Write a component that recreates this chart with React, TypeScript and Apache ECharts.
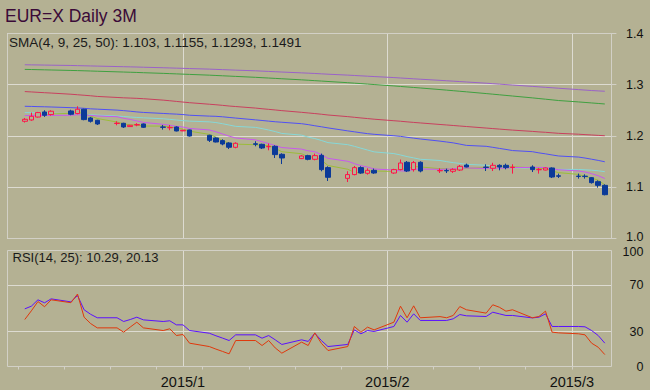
import React, { useEffect, useRef } from 'react';
import * as echarts from 'echarts';

// ---------- data ----------
const tradeDates = [
  '2014-12-08','2014-12-09','2014-12-10','2014-12-11','2014-12-12','2014-12-15','2014-12-16','2014-12-17','2014-12-18','2014-12-19',
  '2014-12-22','2014-12-23','2014-12-24','2014-12-25','2014-12-26','2014-12-29','2014-12-30','2014-12-31',
  '2015-01-01','2015-01-02','2015-01-05','2015-01-06','2015-01-07','2015-01-08','2015-01-09','2015-01-12','2015-01-13','2015-01-14',
  '2015-01-15','2015-01-16','2015-01-19','2015-01-20','2015-01-21','2015-01-22','2015-01-23','2015-01-26','2015-01-27','2015-01-28',
  '2015-01-29','2015-01-30',
  '2015-02-02','2015-02-03','2015-02-04','2015-02-05','2015-02-06','2015-02-09','2015-02-10','2015-02-11','2015-02-12','2015-02-13',
  '2015-02-16','2015-02-17','2015-02-18','2015-02-19','2015-02-20','2015-02-23','2015-02-24','2015-02-25','2015-02-26','2015-02-27',
  '2015-03-02','2015-03-03','2015-03-04','2015-03-05','2015-03-06'
];

const opens = [
  1.2287,1.2313,1.2370,1.2469,1.2418,1.2489,1.2438,1.2522,1.2352,1.2307,
  1.2244,1.2248,1.2184,1.2216,1.2235,1.2176,1.2160,1.2176,
  1.2100,1.2118,1.2014,1.1961,1.1910,1.1864,1.1779,1.1848,1.1838,1.1790,
  1.1799,1.1643,1.1559,1.1617,1.1545,1.1623,1.1383,1.1174,1.1247,1.1383,
  1.1272,1.1330,
  1.1278,1.1344,1.1487,1.1344,1.1487,1.1320,1.1328,1.1311,1.1336,1.1434,
  1.1393,1.1370,1.1428,1.1428,1.1385,1.1395,1.1341,1.1336,1.1376,1.1223,
  1.1217,1.1217,1.1187,1.1109,1.1037
];
const closes = [
  1.2326,1.2385,1.2457,1.2404,1.2483,1.2424,1.2522,1.2320,1.2287,1.2235,
  1.2250,1.2176,1.2209,1.2222,1.2170,1.2170,1.2166,1.2098,
  1.2112,1.2000,1.1916,1.1883,1.1844,1.1780,1.1858,1.1838,1.1766,1.1796,
  1.1637,1.1571,1.1610,1.1545,1.1617,1.1344,1.1194,1.1247,1.1383,1.1278,
  1.1330,1.1278,
  1.1344,1.1473,1.1317,1.1481,1.1317,1.1328,1.1320,1.1350,1.1409,1.1395,
  1.1387,1.1428,1.1395,1.1383,1.1391,1.1344,1.1347,1.1376,1.1200,1.1215,
  1.1211,1.1209,1.1090,1.1037,1.0855
];
const lows = [
  1.2262,1.2297,1.2360,1.2372,1.2398,1.2405,1.2424,1.2307,1.2262,1.2215,
  1.2209,1.2157,1.2180,1.2190,1.2160,1.2125,1.2112,1.2090,
  1.2095,1.1990,1.1883,1.1875,1.1819,1.1746,1.1760,1.1799,1.1746,1.1721,
  1.1571,1.1453,1.1550,1.1526,1.1526,1.1311,1.1122,1.1102,1.1233,1.1262,
  1.1246,1.1262,
  1.1262,1.1330,1.1297,1.1305,1.1291,1.1278,1.1278,1.1278,1.1317,1.1389,
  1.1317,1.1317,1.1330,1.1350,1.1266,1.1297,1.1266,1.1330,1.1180,1.1180,
  1.1168,1.1168,1.1071,1.0992,1.0842
];
const highs = [
  1.2352,1.2457,1.2470,1.2502,1.2502,1.2512,1.2580,1.2531,1.2372,1.2316,
  1.2287,1.2258,1.2215,1.2250,1.2245,1.2215,1.2215,1.2190,
  1.2120,1.2125,1.2024,1.1975,1.1936,1.1880,1.1877,1.1897,1.1850,1.1852,
  1.1818,1.1663,1.1625,1.1633,1.1657,1.1657,1.1409,1.1311,1.1415,1.1409,
  1.1370,1.1364,
  1.1360,1.1540,1.1512,1.1512,1.1506,1.1370,1.1364,1.1370,1.1434,1.1461,
  1.1448,1.1477,1.1448,1.1461,1.1448,1.1428,1.1376,1.1385,1.1389,1.1266,
  1.1266,1.1252,1.1200,1.1135,1.1057
];

const sma4 = [
  null,null,null,1.2393,1.2432,1.2442,1.2458,1.2437,1.2388,1.2341,
  1.2273,1.2237,1.2218,1.2214,1.2194,1.2193,1.2182,1.2151,
  1.2137,1.2094,1.2032,1.1978,1.1911,1.1856,1.1841,1.1830,1.1811,1.1815,
  1.1759,1.1693,1.1654,1.1591,1.1586,1.1529,1.1425,1.1351,1.1292,1.1276,
  1.1310,1.1317,
  1.1308,1.1356,1.1353,1.1404,1.1397,1.1361,1.1362,1.1329,1.1352,1.1369,
  1.1385,1.1405,1.1401,1.1398,1.1399,1.1378,1.1366,1.1365,1.1317,1.1285,
  1.1251,1.1209,1.1181,1.1137,1.1048
];
const sma9 = [
  1.2399,1.2400,1.2400,1.2401,1.2402,1.2405,1.2415,1.2410,1.2401,1.2391,
  1.2376,1.2345,1.2323,1.2294,1.2266,1.2227,1.2209,1.2188,
  1.2175,1.2147,1.2118,1.2082,1.2040,1.1997,1.1962,1.1925,1.1889,1.1853,
  1.1813,1.1775,1.1744,1.1711,1.1693,1.1636,1.1564,1.1507,1.1461,1.1421,
  1.1394,1.1357,
  1.1335,1.1319,1.1316,1.1348,1.1356,1.1350,1.1354,1.1356,1.1371,1.1377,
  1.1367,1.1379,1.1370,1.1377,1.1384,1.1387,1.1387,1.1383,1.1361,1.1342,
  1.1318,1.1297,1.1265,1.1225,1.1171
];
const sma25 = [
  1.2457,1.2455,1.2452,1.2449,1.2446,1.2437,1.2432,1.2424,1.2416,1.2408,
  1.2390,1.2380,1.2370,1.2362,1.2355,1.2336,1.2325,1.2312,
  1.2300,1.2290,1.2276,1.2262,1.2240,1.2214,1.2188,1.2168,1.2144,1.2117,
  1.2086,1.2050,1.2017,1.1978,1.1950,1.1913,1.1871,1.1831,1.1799,1.1762,
  1.1726,1.1690,
  1.1657,1.1630,1.1598,1.1573,1.1546,1.1522,1.1500,1.1480,1.1465,1.1447,
  1.1429,1.1415,1.1399,1.1389,1.1382,1.1371,1.1363,1.1354,1.1348,1.1349,
  1.1347,1.1340,1.1333,1.1321,1.1304
];
const sma50 = [
  1.2580,1.2577,1.2573,1.2570,1.2566,1.2553,1.2548,1.2540,1.2530,1.2524,
  1.2505,1.2495,1.2483,1.2470,1.2460,1.2440,1.2433,1.2427,
  1.2418,1.2405,1.2388,1.2384,1.2375,1.2362,1.2350,1.2315,1.2303,1.2290,
  1.2278,1.2268,1.2240,1.2222,1.2200,1.2180,1.2158,1.2100,1.2082,1.2063,
  1.2046,1.2033,
  1.2005,1.1993,1.1975,1.1958,1.1942,1.1900,1.1883,1.1866,1.1842,1.1817,
  1.1799,1.1779,1.1758,1.1738,1.1716,1.1694,1.1671,1.1652,1.1630,1.1610,
  1.1589,1.1570,1.1547,1.1524,1.1497
];
const maRed = [
  1.2867,1.2860,1.2852,1.2845,1.2838,1.2815,1.2805,1.2795,1.2785,1.2772,
  1.2752,1.2745,1.2740,1.2735,1.2728,1.2700,1.2688,1.2675,
  1.2662,1.2650,1.2620,1.2610,1.2598,1.2585,1.2575,1.2545,1.2532,1.2520,
  1.2508,1.2495,1.2462,1.2450,1.2438,1.2425,1.2410,1.2378,1.2365,1.2352,
  1.2340,1.2328,
  1.2298,1.2288,1.2276,1.2265,1.2255,1.2225,1.2215,1.2205,1.2195,1.2185,
  1.2155,1.2145,1.2135,1.2125,1.2115,1.2090,1.2080,1.2072,1.2062,1.2052,
  1.2035,1.2027,1.2020,1.2012,1.2005
];
const maGreen = [
  1.3300,1.3297,1.3294,1.3291,1.3288,1.3279,1.3276,1.3272,1.3268,1.3264,
  1.3252,1.3248,1.3244,1.3240,1.3235,1.3222,1.3217,1.3212,
  1.3207,1.3202,1.3187,1.3181,1.3175,1.3169,1.3163,1.3145,1.3138,1.3131,
  1.3124,1.3117,1.3096,1.3088,1.3080,1.3072,1.3064,1.3040,1.3031,1.3022,
  1.3013,1.3004,
  1.2977,1.2967,1.2957,1.2947,1.2937,1.2906,1.2895,1.2884,1.2873,1.2862,
  1.2828,1.2816,1.2804,1.2792,1.2780,1.2744,1.2731,1.2718,1.2705,1.2692,
  1.2665,1.2655,1.2645,1.2635,1.2625
];
const maPurple = [
  1.3390,1.3388,1.3386,1.3384,1.3382,1.3376,1.3373,1.3370,1.3367,1.3364,
  1.3355,1.3352,1.3349,1.3346,1.3342,1.3332,1.3328,1.3324,
  1.3320,1.3316,1.3305,1.3300,1.3295,1.3290,1.3285,1.3272,1.3266,1.3260,
  1.3254,1.3248,1.3232,1.3226,1.3220,1.3213,1.3206,1.3188,1.3181,1.3174,
  1.3167,1.3160,
  1.3140,1.3132,1.3124,1.3116,1.3108,1.3086,1.3078,1.3070,1.3062,1.3054,
  1.3030,1.3021,1.3012,1.3003,1.2994,1.2968,1.2959,1.2950,1.2941,1.2932,
  1.2905,1.2896,1.2887,1.2880,1.2873
];

const rsi14 = [
  40.5,48,56,51.5,57.5,55,62.5,42.5,37,33.3,
  33.3,29.6,34,38.2,33.3,31,32.5,26.7,
  27.6,20.1,17.2,15,13,10.9,22.4,22.4,18.1,22.4,
  16,11.5,21,18.1,29,20,13.8,17.2,34.5,29.6,
  33.9,31.6,
  38.2,52,42,52.3,42,43,42,44,51.7,48.9,
  46,53.2,51.1,47.7,48.9,42,43.1,47.7,29.6,29,
  28.2,27.3,20.1,16.6,10.29
];
const rsi25 = [
  49.7,52,57.5,54.9,58.3,55.7,61.2,48.9,45,42,
  42,38.8,40.5,42.5,40.2,38.8,39.4,35.9,
  35.9,31,28.7,26.5,24.5,22.4,27.3,27.3,24.4,26.7,
  23,19,23,21.6,28.7,22.4,17.2,19,31.6,28.2,
  31,30.2,
  34.5,44,38.2,45.4,39.7,39.7,39.7,41.1,44.8,43.7,
  43.1,46.8,45.4,44,44,41.9,42.5,45.4,34.5,34.5,
  34.5,34.2,31,26.7,20.13
];

const priceTicks = [1.0, 1.1, 1.2, 1.3, 1.4];
const rsiTicks = [0, 30, 70, 100];
const monthLabels: Record<string, string> = {
  '2015-01-01': '2015/1',
  '2015-02-01': '2015/2',
  '2015-03-01': '2015/3',
};
const titleText = 'EUR=X Daily 3M';
const smaText = 'SMA(4, 9, 25, 50): 1.103, 1.1155, 1.1293, 1.1491';
const rsiText = 'RSI(14, 25): 10.29, 20.13';

// calendar days shown on the time axis
const calStart = Date.UTC(2014, 11, 5);
const calEnd = Date.UTC(2015, 2, 7);

// ---------- styles ----------
const BG = '#b4b193';
const GRID = '#dddbd1';
const FRAME = '#d2d0c6';
const FONT = '"Liberation Sans", Arial, sans-serif';
const LABEL_RIGHT = 643.4;

export default function App() {
  const ref = useRef<HTMLDivElement>(null);

  useEffect(() => {
    if (!ref.current) return;
    const chart = echarts.init(ref.current, null, { renderer: 'svg' });

    const cats: string[] = [];
    const sundays = new Set<number>();
    for (let t = calStart, i = 0; t <= calEnd; t += 86400000, i++) {
      const d = new Date(t);
      cats.push(d.toISOString().slice(0, 10));
      if (d.getUTCDay() === 0) sundays.add(i);
    }
    const idxOf = new Map(tradeDates.map((d, i) => [d, i]));
    const onCal = (arr: (number | null)[]) =>
      cats.map((d) => {
        const i = idxOf.get(d);
        return i === undefined ? null : arr[i];
      });
    const candleData = cats.map((d) => {
      const i = idxOf.get(d);
      return i === undefined ? '-' : [opens[i], closes[i], lows[i], highs[i]];
    });
    const isMonth = (_i: number, v: string) => !!monthLabels[v];
    const pMin = priceTicks[0];
    const pMax = priceTicks[priceTicks.length - 1];
    const rMax = rsiTicks[rsiTicks.length - 1];

    const line = (arr: (number | null)[], color: string, xi: number, z = 2) => ({
      type: 'line',
      xAxisIndex: xi,
      yAxisIndex: xi,
      data: onCal(arr),
      connectNulls: true,
      showSymbol: false,
      symbol: 'none',
      silent: true,
      z,
      lineStyle: { color, width: 1 },
    });

    const option: any = {
      animation: false,
      backgroundColor: BG,
      textStyle: { fontFamily: FONT },
      grid: [
        { left: 5, top: 33.5, width: 606.4, height: 205 },
        { left: 5, top: 250.5, width: 606.4, height: 116 },
      ],
      xAxis: [
        {
          type: 'category', gridIndex: 0, data: cats, boundaryGap: false,
          axisLine: { show: false }, axisTick: { show: false }, axisLabel: { show: false },
          splitLine: { show: true, interval: isMonth, lineStyle: { color: GRID, width: 1 } },
        },
        {
          type: 'category', gridIndex: 1, data: cats, boundaryGap: false,
          axisLine: { show: false },
          axisTick: { show: true, interval: (i: number) => sundays.has(i), length: 3, lineStyle: { color: FRAME } },
          axisLabel: {
            interval: isMonth, formatter: (v: string) => monthLabels[v] || '',
            color: '#111', fontSize: 14.5, fontFamily: FONT, margin: 8,
          },
          splitLine: { show: true, interval: isMonth, lineStyle: { color: GRID, width: 1 } },
        },
      ],
      yAxis: [
        {
          type: 'value', gridIndex: 0, position: 'right',
          min: pMin, max: pMax, interval: 0.1,
          axisLine: { show: false },
          axisTick: { show: true, length: 5, lineStyle: { color: FRAME } },
          axisLabel: {
            align: 'right', margin: 32, color: '#111', fontSize: 12.5, fontFamily: FONT,
            formatter: (v: number) => (Math.abs(v - pMin) < 1e-9 ? '' : v.toFixed(1)),
          },
          splitLine: { show: true, lineStyle: { color: GRID, width: 1 } },
        },
        {
          type: 'value', gridIndex: 1, position: 'right', min: 0, max: rMax, interval: 10,
          axisLine: { show: false }, axisTick: { show: false },
          axisLabel: {
            align: 'right', margin: 32, color: '#111', fontSize: 12.5, fontFamily: FONT,
            formatter: (v: number) => (rsiTicks.includes(v) && v !== rMax ? String(v) : ''),
          },
          splitLine: { show: false },
        },
      ],
      series: [
        line(maPurple, '#9a62c8', 0),
        line(maGreen, '#3fa040', 0),
        line(maRed, '#c8405e', 0),
        line(sma50, '#5050f4', 0),
        line(sma25, '#86d8d8', 0),
        line(sma4, '#9cbc3a', 0),
        line(sma9, '#c858ee', 0),
        {
          type: 'candlestick', xAxisIndex: 0, yAxisIndex: 0, data: candleData, barWidth: 5, z: 5,
          itemStyle: {
            color: BG, color0: '#0b3a98', borderColor: '#ff1448', borderColor0: '#0b3a98', borderWidth: 1,
          },
        },
        {
          ...line(rsi25, '#5a10ff', 1, 3),
          markLine: {
            silent: true, symbol: 'none', label: { show: false },
            lineStyle: { color: GRID, type: 'solid', width: 1 },
            data: [{ yAxis: rsiTicks[1] }, { yAxis: rsiTicks[2] }],
            z: 1,
          },
        },
        line(rsi14, '#e0380c', 1, 4),
      ],
      graphic: [
        { type: 'rect', z: 100, shape: { x: 0, y: 30, width: 7, height: 340 }, style: { fill: BG } },
        { type: 'rect', z: 101, shape: { x: 7.5, y: 33.5, width: 604, height: 205 }, style: { fill: 'none', stroke: FRAME, lineWidth: 1 } },
        { type: 'rect', z: 101, shape: { x: 7.5, y: 250.5, width: 604, height: 116 }, style: { fill: 'none', stroke: FRAME, lineWidth: 1 } },
        { type: 'text', z: 102, x: 5, y: 7, style: { text: titleText, fill: '#3a0a38', fontSize: 17.5, fontFamily: FONT, verticalAlign: 'top' } },
        { type: 'text', z: 102, x: 9, y: 35, style: { text: smaText, fill: '#1a1a1a', fontSize: 13.5, fontFamily: FONT, verticalAlign: 'top' } },
        { type: 'text', z: 102, x: 12.5, y: 251, style: { text: rsiText, fill: '#1a1a1a', fontSize: 13, fontFamily: FONT, verticalAlign: 'top' } },
        // bottom price label and top RSI label sit close together; placed by hand so they do not collide
        { type: 'text', z: 102, x: LABEL_RIGHT, y: 236.5, style: { text: pMin.toFixed(1), fill: '#111', fontSize: 12.5, fontFamily: FONT, align: 'right', verticalAlign: 'middle' } },
        { type: 'text', z: 102, x: LABEL_RIGHT, y: 251.5, style: { text: String(rMax), fill: '#111', fontSize: 12.5, fontFamily: FONT, align: 'right', verticalAlign: 'middle' } },
      ],
    };

    chart.setOption(option);
    return () => chart.dispose();
  }, []);

  return <div ref={ref} style={{ position: 'fixed', left: 0, top: 0, width: 650, height: 390 }} />;
}
